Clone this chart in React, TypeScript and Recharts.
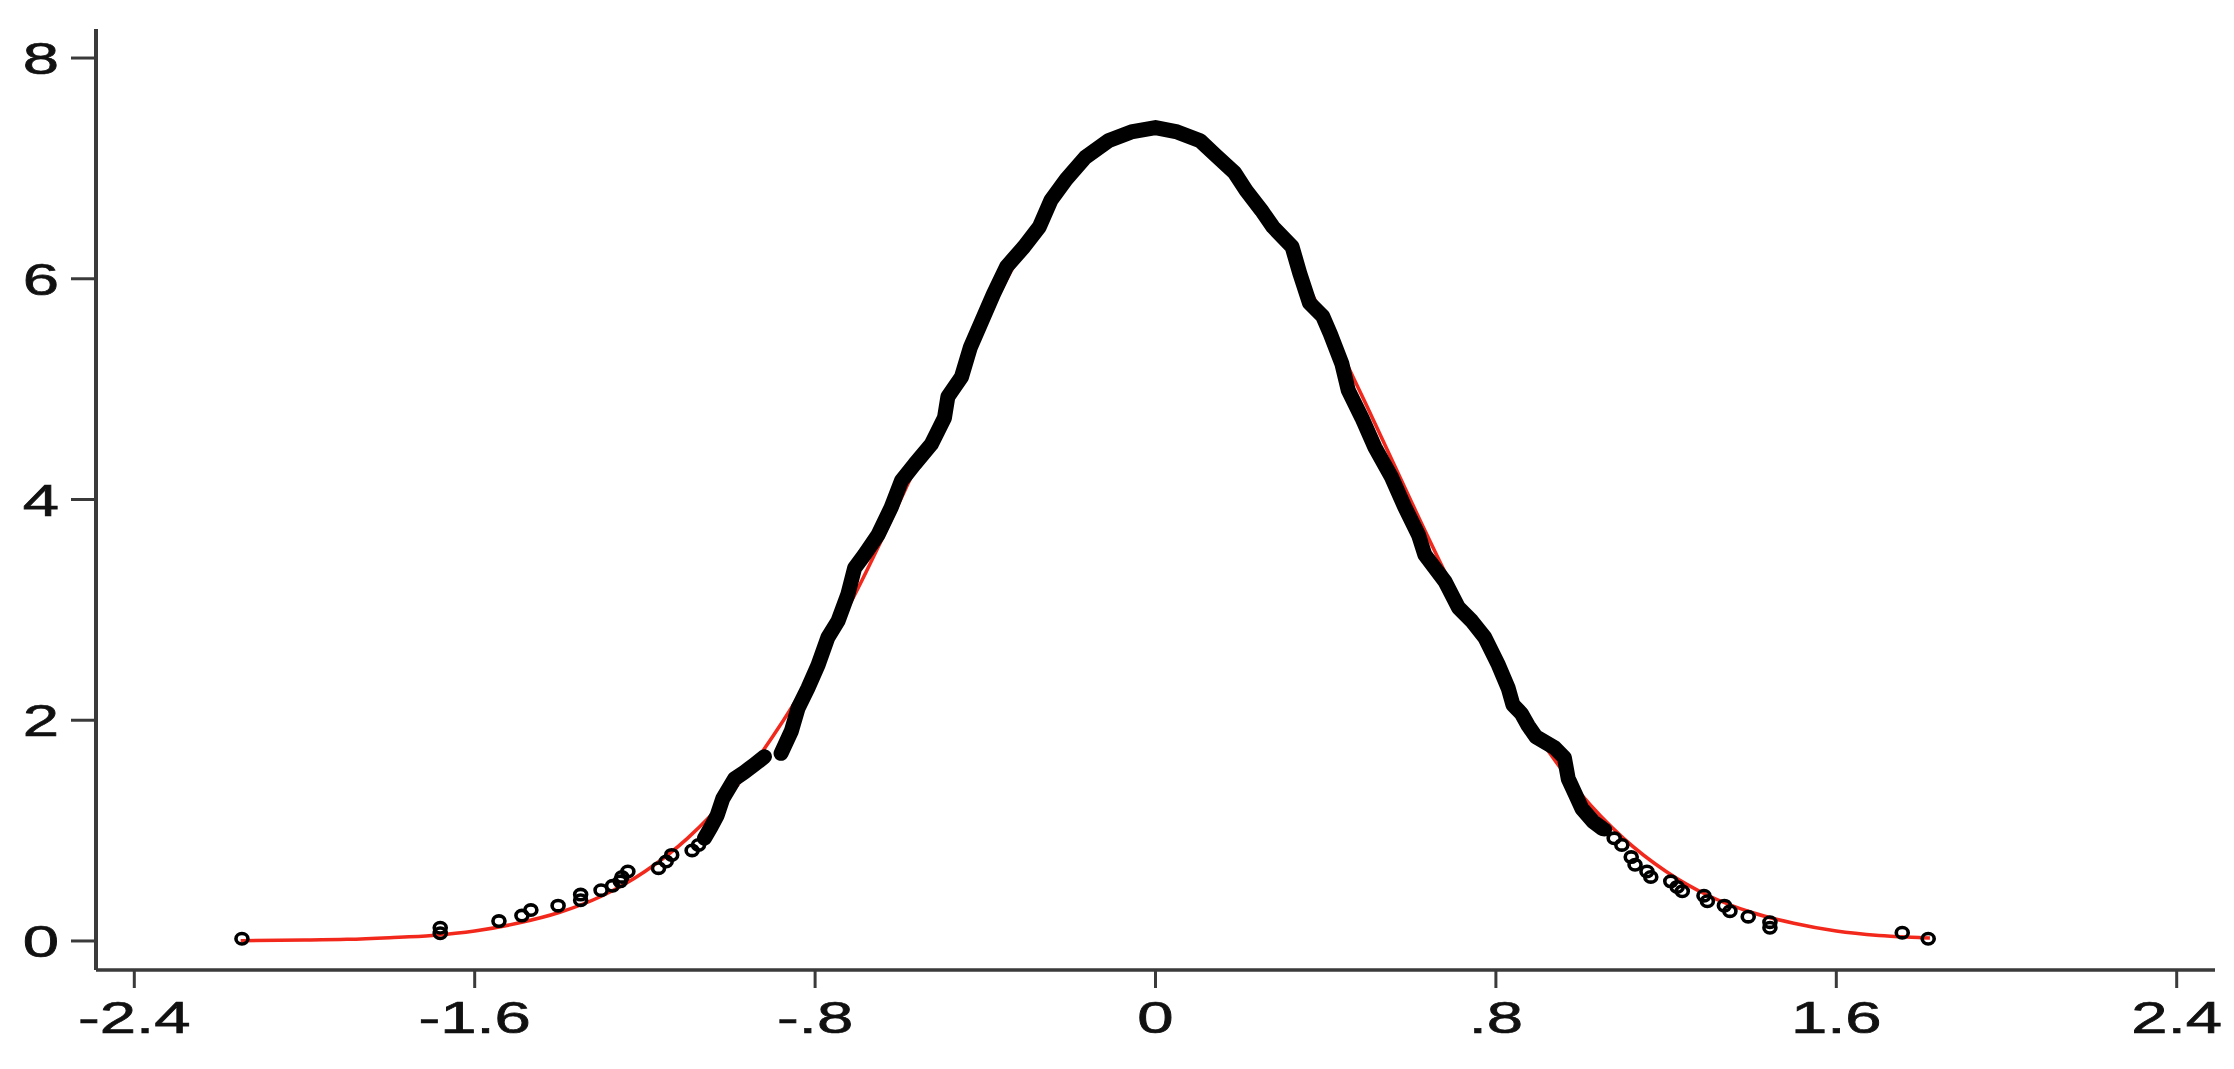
import React from "react";
import { ComposedChart, Line, Scatter, XAxis, YAxis } from "recharts";

// x tick positions and the labels printed under them
const xTicks = [-2.4, -1.6, -0.8, 0, 0.8, 1.6, 2.4];
const xTickLabels = ["-2.4", "-1.6", "-.8", "0", ".8", "1.6", "2.4"];
const yTicks = [0, 2, 4, 6, 8];

// fitted normal curve (red)
const normX = [-2.15, -2.0, -1.9, -1.8, -1.7, -1.6, -1.5, -1.4, -1.3, -1.2, -1.1, -1.0, -0.9, -0.8, -0.7, -0.6, -0.5, -0.4, -0.3, -0.2, -0.1, 0, 0.1, 0.2, 0.3, 0.4, 0.5, 0.6, 0.7, 0.8, 0.9, 1.0, 1.1, 1.2, 1.3, 1.4, 1.5, 1.6, 1.7, 1.8, 1.82];
const normY = [0.003, 0.008, 0.015, 0.03, 0.05, 0.09, 0.16, 0.26, 0.41, 0.63, 0.93, 1.33, 1.85, 2.47, 3.19, 3.99, 4.82, 5.62, 6.34, 6.91, 7.27, 7.4, 7.27, 6.91, 6.34, 5.62, 4.82, 3.99, 3.19, 2.47, 1.85, 1.33, 0.93, 0.63, 0.41, 0.26, 0.16, 0.09, 0.05, 0.03, 0.026];

// dense part of the kernel density points (drawn as a thick black band)
const denseX = [-1.06, -1.045, -1.03, -1.017, -0.989, -0.966, -0.942, -0.919, -0.9, -0.88, -0.856, -0.84, -0.817, -0.793, -0.77, -0.746, -0.723, -0.707, -0.684, -0.652, -0.621, -0.597, -0.566, -0.527, -0.496, -0.488, -0.456, -0.435, -0.408, -0.381, -0.35, -0.309, -0.273, -0.246, -0.21, -0.165, -0.111, -0.057, 0, 0.051, 0.105, 0.141, 0.186, 0.213, 0.249, 0.276, 0.321, 0.339, 0.362, 0.393, 0.411, 0.438, 0.453, 0.485, 0.516, 0.555, 0.586, 0.618, 0.633, 0.68, 0.712, 0.743, 0.774, 0.806, 0.829, 0.84, 0.86, 0.876, 0.894, 0.938, 0.961, 0.97, 0.988, 1.002, 1.029, 1.05];
const denseY = [0.93, 1.03, 1.14, 1.29, 1.47, 1.53, 1.6, 1.67, null, 1.7, 1.9, 2.11, 2.29, 2.5, 2.75, 2.9, 3.14, 3.38, 3.5, 3.68, 3.93, 4.17, 4.32, 4.5, 4.74, 4.93, 5.11, 5.38, 5.62, 5.86, 6.11, 6.29, 6.47, 6.71, 6.9, 7.1, 7.25, 7.33, 7.37, 7.33, 7.25, 7.12, 6.96, 6.8, 6.62, 6.47, 6.29, 6.05, 5.78, 5.66, 5.5, 5.23, 4.99, 4.74, 4.47, 4.2, 3.93, 3.68, 3.5, 3.26, 3.02, 2.9, 2.75, 2.5, 2.29, 2.14, 2.06, 1.95, 1.85, 1.75, 1.66, 1.47, 1.32, 1.2, 1.08, 1.02];

// sparse tail points (hollow circles)
const tailX = [-2.147, -1.681, -1.681, -1.543, -1.489, -1.468, -1.404, -1.351, -1.351, -1.303, -1.276, -1.258, -1.254, -1.24, -1.168, -1.15, -1.137, -1.089, -1.074, 1.055, 1.078, 1.096, 1.118, 1.127, 1.155, 1.164, 1.211, 1.226, 1.238, 1.289, 1.297, 1.337, 1.35, 1.393, 1.444, 1.444, 1.755, 1.816];
const tailY = [0.02, 0.12, 0.07, 0.18, 0.23, 0.28, 0.32, 0.37, 0.42, 0.46, 0.5, 0.54, 0.58, 0.63, 0.66, 0.72, 0.78, 0.82, 0.87, 1.01, 0.93, 0.87, 0.76, 0.69, 0.63, 0.58, 0.54, 0.49, 0.45, 0.41, 0.36, 0.32, 0.27, 0.22, 0.17, 0.12, 0.075, 0.02];

const normData = normX.map((x, i) => ({ x, y: normY[i] }));
const denseData = denseX.map((x, i) => ({ x, y: denseY[i] }));
const tailData = tailX.map((x, i) => ({ x, y: tailY[i] }));

const AXIS = "#3a3a3a";
const FONT = "'Liberation Sans', Arial, Helvetica, sans-serif";

const XTick = (props: any) => {
  const { x, y, payload } = props;
  const i = xTicks.indexOf(payload.value);
  return (
    <g transform={`translate(${x},${y + 45}) scale(1.45,1)`}>
      <text x={0} y={0} textAnchor="middle" fontFamily={FONT} fontSize={45} fill="#111" stroke="#111" strokeWidth={0.7}>
        {i >= 0 ? xTickLabels[i] : payload.value}
      </text>
    </g>
  );
};

const YTick = (props: any) => {
  const { x, y, payload } = props;
  return (
    <g transform={`translate(${x},${y + 16}) scale(1.45,1)`}>
      <text x={0} y={0} textAnchor="end" fontFamily={FONT} fontSize={45} fill="#111" stroke="#111" strokeWidth={0.7}>
        {payload.value}
      </text>
    </g>
  );
};

const Ring = (props: any) => {
  const { cx, cy } = props;
  if (cx == null || cy == null) return null;
  return <ellipse cx={cx} cy={cy} rx={6} ry={5.2} fill="none" stroke="#000" strokeWidth={3.6} />;
};

export default function App() {
  return (
    <div style={{ position: "absolute", left: 0, top: 0, width: 2234, height: 1069, background: "#fff" }}>
      <ComposedChart
        width={2234}
        height={1069}
        margin={{ top: 29, right: 19, bottom: 0, left: 0 }}
      >
        <XAxis
          type="number"
          dataKey="x"
          domain={[-2.49, 2.49]}
          ticks={xTicks}
          allowDataOverflow
          height={99}
          tickSize={18}
          tickMargin={0}
          axisLine={{ stroke: AXIS, strokeWidth: 3.5 }}
          tickLine={{ stroke: AXIS, strokeWidth: 3 }}
          tick={<XTick />}
          interval={0}
        />
        <YAxis
          type="number"
          domain={[-0.263, 8.263]}
          ticks={yTicks}
          allowDataOverflow
          width={96}
          tickSize={25}
          tickMargin={12}
          axisLine={{ stroke: AXIS, strokeWidth: 4 }}
          tickLine={{ stroke: AXIS, strokeWidth: 3 }}
          tick={<YTick />}
          interval={0}
        />
        <Line
          data={normData}
          dataKey="y"
          type="monotone"
          stroke="#f2281c"
          strokeWidth={3.5}
          dot={false}
          activeDot={false}
          isAnimationActive={false}
        />
        <Line
          data={denseData}
          dataKey="y"
          type="linear"
          stroke="#000"
          strokeWidth={15}
          strokeLinejoin="round"
          strokeLinecap="round"
          connectNulls={false}
          dot={false}
          activeDot={false}
          isAnimationActive={false}
        />
        <Scatter data={tailData} dataKey="y" shape={<Ring />} isAnimationActive={false} />
      </ComposedChart>
    </div>
  );
}
